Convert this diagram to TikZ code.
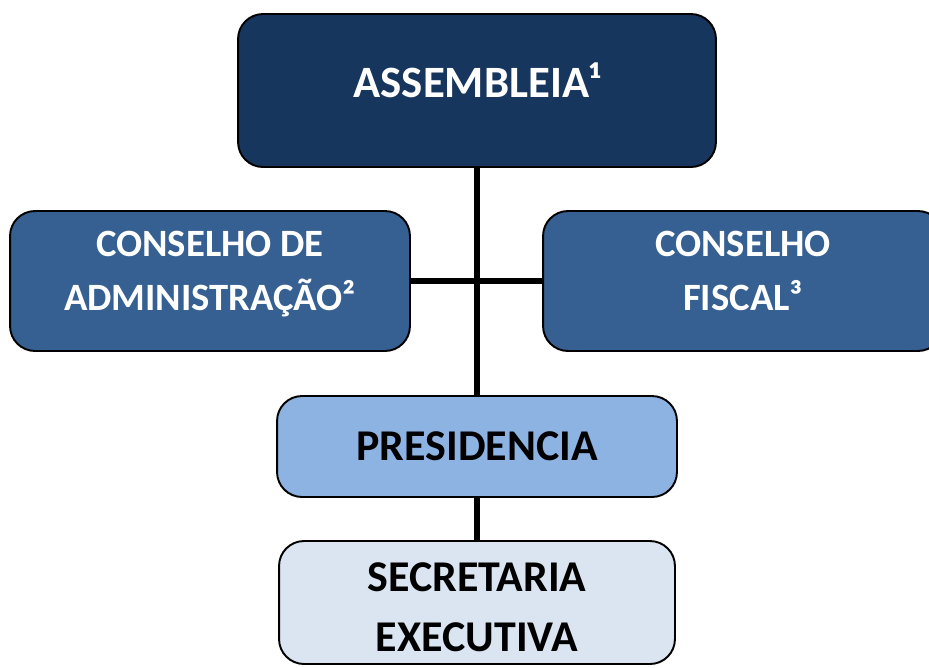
\documentclass[tikz,border=0pt]{standalone}
\usepackage{fontspec}
\setmainfont{Carlito}
\definecolor{navy}{HTML}{17365D}
\definecolor{midblue}{HTML}{366092}
\definecolor{lightblue}{HTML}{8DB3E2}
\definecolor{paleblue}{HTML}{DBE5F1}
\newcommand{\lowstrut}{\rule[-0.4cm]{0pt}{0pt}}
\newcommand{\highstrut}{\rule{0pt}{0.78cm}}
\begin{document}
\begin{tikzpicture}[x=0.02cm, y=-0.02cm,
    orgbox/.style={draw=black, line width=1.1pt, rounded corners=0.5cm, align=center, font=\bfseries\fontsize{22}{31}\selectfont, inner sep=0pt},
    link/.style={line width=3.4pt, black}]
    \useasboundingbox (0,0) rectangle (929,667);
    \clip (0,0) rectangle (929,667);

    % Boxes
    \node[orgbox, fill=navy, text=white, minimum width=9.56cm, minimum height=3.06cm, text height=0.6cm, text depth=0.34cm, font=\bfseries\fontsize{25.5}{30}\selectfont] (assembleia) at (477,90.5) {ASSEMBLEIA¹};
    \node[orgbox, fill=midblue, text=white, minimum width=8cm, minimum height=2.8cm] (admin) at (210,281) {CONSELHO DE\\ADMINISTRAÇÃO²\lowstrut};
    \node[orgbox, fill=midblue, text=white, minimum width=8cm, minimum height=2.8cm] (fiscal) at (743,281) {CONSELHO\\FISCAL³\lowstrut};
    \node[orgbox, fill=lightblue, minimum width=8cm, minimum height=2.02cm, font=\bfseries\fontsize{25}{33}\selectfont] (presidencia) at (477,446.5) {PRESIDENCIA};
    \node[orgbox, fill=paleblue, minimum width=7.92cm, minimum height=2.46cm, font=\bfseries\fontsize{25}{34}\selectfont] (secretaria) at (477,602.5) {\highstrut SECRETARIA\\EXECUTIVA};

    % Connectors
    \draw[link] (assembleia.south) -- (presidencia.north);
    \draw[link] (admin.east) -- (fiscal.west);
    \draw[link] (presidencia.south) -- (secretaria.north);
\end{tikzpicture}
\end{document}
